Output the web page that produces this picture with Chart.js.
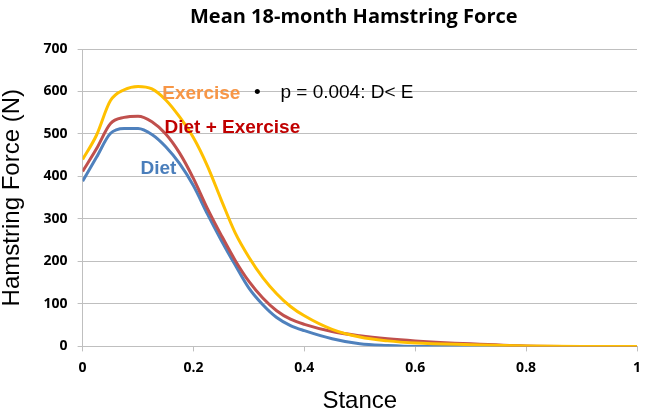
<!DOCTYPE html>
<html>
<head>
<meta charset="utf-8">
<script src="https://cdn.jsdelivr.net/npm/chart.js@4"></script>
<style>
  body { margin: 0; background: #fff; }
  #c { display: block; }
</style>
</head>
<body>
<canvas id="c" width="645" height="413"></canvas>
<script>
// stance fraction (x) and mean hamstring force in N for each group
const stance       = [0, 0.025, 0.05, 0.075, 0.1, 0.125, 0.15, 0.175, 0.2, 0.225, 0.25, 0.275, 0.3, 0.325, 0.35, 0.375, 0.4, 0.45, 0.5, 0.55, 0.6, 0.7, 0.8, 0.9, 1];
const exercise     = [440, 497, 578, 604, 612, 606, 580, 540, 491, 425, 345, 268, 210, 162, 124, 94, 72, 40, 22, 13, 8, 4, 1, 0, 0];
const dietExercise = [412, 465, 524, 539, 542, 529, 500, 455, 395, 325, 262, 203, 153, 114, 84, 64, 52, 35, 25, 18, 13, 6, 1, 0, 0];
const diet         = [389, 445, 501, 513, 513, 499, 470, 430, 378, 312, 250, 192, 137, 98, 68, 49, 37, 18, 6, 2, 0, 0, 0, 0, 0];
const xTicks = [0, 0.2, 0.4, 0.6, 0.8, 1];

const pts = arr => stance.map((s, i) => ({ x: s, y: arr[i] }));

// text labels placed in data coordinates
const notes = [
  { text: 'Exercise',        x: 0.1436, y: 594, color: '#f79646', bold: true,  align: 'left' },
  { text: '•',               x: 0.315,  y: 596, color: '#000000', bold: false, align: 'center' },
  { text: 'p = 0.004: D< E', x: 0.3568, y: 596, color: '#000000', bold: false, align: 'left' },
  { text: 'Diet + Exercise', x: 0.1477, y: 514, color: '#c00000', bold: true,  align: 'left' },
  { text: 'Diet',            x: 0.1045, y: 418, color: '#4a7ebb', bold: true,  align: 'left' }
];

const extras = {
  id: 'extras',
  afterDraw(chart) {
    const ctx = chart.ctx, a = chart.chartArea;
    const xs = chart.scales.x, ys = chart.scales.y;
    ctx.save();
    ctx.fillStyle = '#000';
    ctx.font = 'bold 20px "Open Sans"';
    ctx.textAlign = 'center';
    ctx.textBaseline = 'middle';
    ctx.fillText('Mean 18-month Hamstring Force', (a.left + a.right) / 2 - 6, 17);
    notes.forEach(n => {
      ctx.font = (n.bold ? 'bold ' : '') + '19px "Liberation Sans", Arial';
      ctx.fillStyle = n.color;
      ctx.textAlign = n.align;
      ctx.fillText(n.text, xs.getPixelForValue(n.x), ys.getPixelForValue(n.y));
    });
    ctx.restore();
  }
};

const gray = '#bfbfbf';

new Chart(document.getElementById('c'), {
  type: 'line',
  data: {
    datasets: [
      { label: 'Exercise', data: pts(exercise), borderColor: '#ffc000' },
      { label: 'Diet + Exercise', data: pts(dietExercise), borderColor: '#c0504d' },
      { label: 'Diet', data: pts(diet), borderColor: '#4f81bd' }
    ]
  },
  options: {
    responsive: false,
    animation: false,
    devicePixelRatio: 1,
    layout: { padding: { top: 49, right: 8, left: 0, bottom: 0 } },
    elements: {
      line: { borderWidth: 3, cubicInterpolationMode: 'monotone', fill: false },
      point: { radius: 0 }
    },
    plugins: { legend: { display: false }, title: { display: false }, tooltip: { enabled: false } },
    scales: {
      x: {
        type: 'linear', min: 0, max: 1,
        afterBuildTicks: s => { s.ticks = xTicks.map(v => ({ value: v })); },
        afterFit: s => { s.paddingRight = 0; },
        border: { color: gray },
        grid: { drawOnChartArea: false, drawTicks: true, tickLength: 5, color: gray },
        ticks: { padding: 8, color: '#000', callback: v => String(v), font: { family: 'Open Sans', weight: 'bold', size: 14 } },
        title: { display: true, text: 'Stance', color: '#000', font: { family: 'Liberation Sans', size: 24 }, padding: { top: 3, bottom: -3 } }
      },
      y: {
        min: 0, max: 700,
        border: { color: gray },
        grid: { color: gray, tickLength: 5 },
        ticks: { stepSize: 100, padding: 10, color: '#000', font: { family: 'Open Sans', weight: 'bold', size: 14 } },
        title: { display: true, text: 'Hamstring Force (N)', color: '#000', font: { family: 'Liberation Sans', size: 24, lineHeight: 0.9 }, padding: { top: 2, bottom: 10 } }
      }
    }
  },
  plugins: [extras]
});
</script>
</body>
</html>
